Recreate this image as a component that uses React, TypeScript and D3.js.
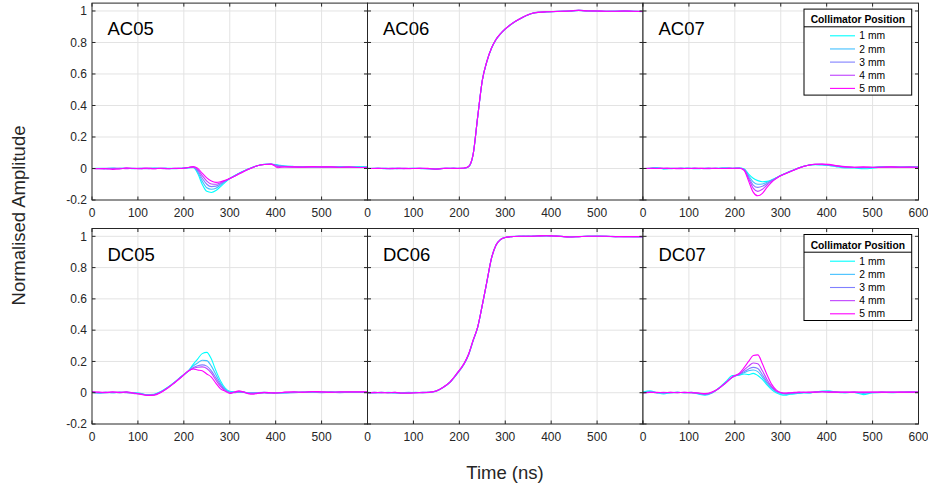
import React from "react";
import * as d3 from "d3";

// ---------- DATA ----------
const TIME = [0, 15, 30, 45, 60, 75, 90, 105, 120, 135, 150, 165, 180, 195, 210, 220, 230, 240, 250, 260, 270, 280, 290, 300, 310, 320, 330, 340, 350, 360, 375, 390, 405, 420, 440, 460, 480, 500, 520, 540, 560, 580, 600];
const SERIES_NAMES = ["1 mm", "2 mm", "3 mm", "4 mm", "5 mm"];
const SERIES_COLORS = ["#00ffff", "#40bfff", "#8080ff", "#bf40ff", "#ff00ff"];
const Y_TICKS = [-0.2, 0, 0.2, 0.4, 0.6, 0.8, 1];
const X_TICKS = [0, 100, 200, 300, 400, 500, 600];
const PANEL_LABELS = ["AC05", "AC06", "AC07", "DC05", "DC06", "DC07"];

const AC05_1 = [0, 0.002, -0.002, 0.003, 0, 0.002, -0.002, 0.002, 0, 0.003, 0, 0.002, 0, 0.002, 0.004, 0.006, -0.03, -0.1, -0.145, -0.152, -0.14, -0.115, -0.088, -0.064, -0.046, -0.03, -0.016, -0.004, 0.008, 0.018, 0.027, 0.028, 0.022, 0.016, 0.013, 0.012, 0.01, 0.012, 0.01, 0.012, 0.008, 0.012, 0.01];
const AC05_2 = [0, 0, 0.002, -0.002, 0.002, 0, 0.002, -0.002, 0.002, 0, 0.002, 0, -0.002, 0.002, 0.005, 0.008, -0.022, -0.08, -0.122, -0.132, -0.125, -0.105, -0.083, -0.063, -0.047, -0.031, -0.017, -0.004, 0.008, 0.018, 0.026, 0.027, 0.02, 0.015, 0.012, 0.01, 0.012, 0.01, 0.008, 0.01, 0.01, 0.008, 0.008];
const AC05_3 = [0, -0.002, 0, 0.002, -0.002, 0.002, 0, 0, -0.002, 0.002, 0, -0.002, 0.002, 0, 0.006, 0.009, -0.014, -0.062, -0.1, -0.115, -0.112, -0.097, -0.079, -0.063, -0.048, -0.032, -0.018, -0.005, 0.007, 0.017, 0.025, 0.027, 0.018, 0.012, 0.01, 0.01, 0.008, 0.01, 0.01, 0.008, 0.006, 0.008, 0.006];
const AC05_4 = [0, 0, -0.003, 0, 0.002, -0.002, 0.002, 0.002, 0, -0.002, 0.002, 0, 0, 0.002, 0.006, 0.01, -0.006, -0.045, -0.08, -0.098, -0.1, -0.09, -0.077, -0.063, -0.049, -0.034, -0.019, -0.005, 0.007, 0.017, 0.025, 0.028, 0.012, 0.012, 0.008, 0.01, 0.01, 0.008, 0.01, 0.006, 0.008, 0.006, 0.006];
const AC05_5 = [0, -0.002, 0, -0.006, -0.003, 0.004, 0, -0.002, 0.003, -0.002, 0.002, -0.002, 0.002, 0, 0.006, 0.012, 0.002, -0.03, -0.06, -0.08, -0.088, -0.084, -0.075, -0.063, -0.05, -0.035, -0.02, -0.006, 0.007, 0.017, 0.025, 0.028, 0.005, 0.01, 0.01, 0.008, 0.012, 0.01, 0.01, 0.008, 0.01, 0.006, 0.008];

const AC06_1 = [0, 0.002, 0, -0.002, 0.002, 0, 0, 0.002, -0.002, 0, -0.004, 0, 0.002, 0, 0.002, 0.012, 0.09, 0.33, 0.56, 0.68, 0.765, 0.82, 0.857, 0.886, 0.91, 0.93, 0.948, 0.963, 0.976, 0.986, 0.992, 0.995, 0.997, 0.998, 1.0, 1.004, 1.0, 1.0, 0.998, 0.998, 1.0, 0.998, 0.997];
const AC06_2 = [0, 0, 0.002, 0, -0.002, 0.002, 0, 0, 0.002, -0.003, -0.002, 0.002, 0, 0.002, 0, 0.01, 0.088, 0.328, 0.558, 0.678, 0.762, 0.818, 0.855, 0.885, 0.908, 0.93, 0.947, 0.962, 0.975, 0.985, 0.991, 0.994, 0.996, 0.998, 0.999, 1.003, 1.001, 0.999, 0.997, 0.999, 0.999, 0.998, 0.996];
const AC06_3 = [0.002, 0, 0, 0.002, 0, -0.002, 0.002, 0, 0, -0.002, -0.005, 0, 0.002, 0, 0.002, 0.011, 0.087, 0.326, 0.557, 0.679, 0.763, 0.819, 0.856, 0.884, 0.909, 0.929, 0.946, 0.962, 0.976, 0.986, 0.992, 0.996, 0.997, 0.997, 1.0, 1.005, 1.0, 0.999, 0.998, 0.997, 1.0, 0.997, 0.997];
const AC06_4 = [0, 0.002, 0, 0, 0.002, 0, -0.002, 0.002, 0, -0.002, -0.004, 0.002, 0, 0.002, 0.002, 0.012, 0.089, 0.329, 0.559, 0.68, 0.764, 0.82, 0.857, 0.886, 0.91, 0.93, 0.948, 0.963, 0.977, 0.987, 0.993, 0.995, 0.996, 0.998, 1.0, 1.004, 1.001, 1.0, 0.998, 0.998, 0.999, 0.998, 0.997];
const AC06_5 = [0, 0, 0.002, -0.002, 0, 0.002, 0, 0, 0.002, 0, -0.003, 0, 0.002, 0, 0.003, 0.013, 0.09, 0.33, 0.56, 0.681, 0.765, 0.821, 0.857, 0.886, 0.91, 0.931, 0.948, 0.963, 0.976, 0.986, 0.992, 0.995, 0.997, 0.998, 1.0, 1.005, 1.0, 1.0, 0.998, 0.998, 1.0, 0.998, 0.997];

const AC07_1 = [0, 0.002, 0.006, -0.004, 0.002, 0, 0.002, 0, -0.002, 0.002, 0, 0.002, 0.004, 0.002, 0.003, -0.002, -0.035, -0.062, -0.077, -0.084, -0.082, -0.072, -0.058, -0.044, -0.031, -0.018, -0.006, 0.005, 0.014, 0.021, 0.024, 0.022, 0.02, 0.012, 0.004, 0.004, -0.002, 0.002, 0.01, 0.012, 0.008, 0.01, 0.01];
const AC07_2 = [0, 0, 0.002, 0, -0.002, 0.002, 0, 0.002, 0, 0, 0.002, 0, 0.002, 0, 0.003, -0.004, -0.045, -0.085, -0.1, -0.098, -0.088, -0.075, -0.06, -0.045, -0.032, -0.019, -0.007, 0.005, 0.014, 0.021, 0.025, 0.024, 0.02, 0.014, 0.008, 0.006, 0.004, 0.006, 0.01, 0.01, 0.008, 0.01, 0.008];
const AC07_3 = [0, 0.002, 0, 0.002, 0, 0, 0.002, 0, 0.002, -0.002, 0, 0.002, 0, 0.002, 0.002, -0.006, -0.055, -0.105, -0.12, -0.113, -0.095, -0.078, -0.061, -0.045, -0.032, -0.02, -0.008, 0.004, 0.014, 0.021, 0.026, 0.026, 0.022, 0.016, 0.01, 0.006, 0.006, 0.008, 0.01, 0.008, 0.01, 0.008, 0.008];
const AC07_4 = [0, 0, 0.002, 0, 0.002, -0.002, 0, 0.002, 0, 0.002, 0, 0, 0.002, 0, 0.002, -0.008, -0.065, -0.125, -0.145, -0.132, -0.105, -0.082, -0.062, -0.045, -0.032, -0.02, -0.008, 0.004, 0.014, 0.021, 0.027, 0.027, 0.024, 0.018, 0.012, 0.008, 0.008, 0.006, 0.008, 0.01, 0.008, 0.01, 0.008];
const AC07_5 = [0, 0.002, 0, 0.002, 0, 0.002, 0, 0, 0.002, 0, 0.002, 0, 0, 0.002, 0.002, -0.012, -0.08, -0.15, -0.173, -0.158, -0.12, -0.088, -0.064, -0.046, -0.033, -0.021, -0.009, 0.003, 0.013, 0.021, 0.027, 0.028, 0.026, 0.018, 0.01, 0.008, 0.01, 0.008, 0.008, 0.01, 0.008, 0.008, 0.008];

const DC05_1 = [0.005, 0, 0.003, 0, 0.002, 0.004, 0, -0.004, -0.012, -0.01, 0.008, 0.035, 0.068, 0.105, 0.14, 0.18, 0.215, 0.25, 0.258, 0.215, 0.14, 0.075, 0.03, 0.01, 0.006, 0.002, 0.004, 0, -0.002, 0, 0.002, 0, -0.002, 0, 0.002, 0.004, 0.006, 0.004, 0.006, 0.004, 0.004, 0.002, 0.002];
const DC05_2 = [0.002, -0.003, 0, 0.002, 0, 0.003, -0.002, -0.006, -0.014, -0.012, 0.006, 0.034, 0.067, 0.104, 0.14, 0.17, 0.19, 0.208, 0.205, 0.17, 0.115, 0.06, 0.022, 0.005, 0.002, 0.006, 0.002, -0.002, 0, -0.002, 0, -0.002, 0, -0.002, 0.002, 0.002, 0.004, 0.002, 0.004, 0.002, 0.004, 0.004, 0.004];
const DC05_3 = [0.004, 0, 0.002, 0, 0.004, 0, -0.002, -0.006, -0.014, -0.013, 0.004, 0.032, 0.066, 0.103, 0.138, 0.16, 0.172, 0.178, 0.17, 0.14, 0.095, 0.05, 0.018, 0.003, 0, 0.004, 0.004, -0.004, -0.002, -0.004, 0, -0.002, -0.002, 0, 0, 0.002, 0.002, 0, 0.002, 0, 0.002, 0.002, 0.002];
const DC05_4 = [0.006, 0.002, 0, 0.002, 0, 0.002, -0.004, -0.008, -0.016, -0.014, 0.003, 0.031, 0.065, 0.102, 0.138, 0.155, 0.163, 0.165, 0.155, 0.125, 0.08, 0.04, 0.012, 0, 0.002, 0.008, 0.006, -0.002, -0.004, -0.002, 0, -0.002, 0, 0.002, 0.004, 0.002, 0.006, 0.004, 0.002, 0.004, 0.004, 0.004, 0.004];
const DC05_5 = [0.006, 0.004, 0.002, 0.006, 0.002, 0.006, -0.002, -0.01, -0.018, -0.016, 0.002, 0.03, 0.064, 0.1, 0.14, 0.152, 0.145, 0.14, 0.12, 0.1, 0.06, 0.025, 0.01, -0.005, 0.004, 0.012, 0.004, -0.006, -0.01, -0.004, 0.002, 0, -0.002, 0.004, 0.006, 0.004, 0.008, 0.006, 0.004, 0.006, 0.006, 0.006, 0.006];

const DC06_1 = [0, 0.002, 0, 0.002, 0, -0.002, 0, 0.002, 0, 0.003, 0.012, 0.036, 0.07, 0.124, 0.185, 0.245, 0.335, 0.42, 0.56, 0.71, 0.86, 0.945, 0.98, 0.992, 0.997, 0.999, 1.0, 1.0, 1.0, 1.0, 1.003, 1.004, 1.002, 1.0, 0.996, 0.998, 1.0, 1.0, 1.0, 0.998, 0.998, 0.998, 0.998];
const DC06_2 = [0.002, 0, 0.003, 0, -0.002, 0, 0.002, 0, 0.002, 0.002, 0.011, 0.034, 0.068, 0.12, 0.18, 0.24, 0.33, 0.418, 0.558, 0.708, 0.858, 0.944, 0.98, 0.993, 0.998, 1.0, 1.0, 1.001, 1.0, 1.001, 1.004, 1.003, 1.001, 0.999, 0.997, 0.999, 1.0, 1.001, 0.999, 0.998, 0.999, 0.998, 0.998];
const DC06_3 = [0, -0.002, 0, 0, 0.002, -0.002, -0.002, 0, 0, 0.002, 0.01, 0.033, 0.067, 0.121, 0.182, 0.243, 0.333, 0.419, 0.559, 0.709, 0.859, 0.944, 0.979, 0.992, 0.997, 0.999, 1.0, 1.0, 1.001, 1.0, 1.003, 1.004, 1.002, 1.0, 0.997, 0.998, 1.0, 1.0, 1.0, 0.999, 0.998, 0.998, 0.998];
const DC06_4 = [0, 0, 0.002, 0, 0, -0.003, 0, 0, 0.002, 0.002, 0.011, 0.035, 0.069, 0.123, 0.184, 0.244, 0.334, 0.42, 0.56, 0.71, 0.86, 0.945, 0.98, 0.992, 0.997, 0.999, 1.0, 1.0, 1.0, 1.001, 1.003, 1.004, 1.002, 1.0, 0.996, 0.998, 1.0, 1.0, 1.0, 0.998, 0.998, 0.998, 0.998];
const DC06_5 = [0, 0.002, 0, 0, 0.002, -0.002, -0.003, 0, 0, 0.003, 0.012, 0.036, 0.07, 0.125, 0.186, 0.246, 0.336, 0.421, 0.561, 0.711, 0.86, 0.945, 0.98, 0.992, 0.997, 0.999, 1.0, 1.0, 1.0, 1.0, 1.003, 1.004, 1.002, 1.0, 0.996, 0.998, 1.0, 1.0, 1.0, 0.998, 0.998, 0.998, 0.998];

const DC07_1 = [0.004, 0.012, 0, -0.008, 0, 0.002, 0, 0.002, -0.008, -0.016, -0.002, 0.03, 0.07, 0.11, 0.112, 0.12, 0.116, 0.124, 0.11, 0.085, 0.05, 0.02, 0, -0.012, -0.016, -0.01, -0.008, -0.004, 0, -0.002, 0.004, 0.01, 0.012, 0.004, 0, 0.002, -0.012, 0, 0.002, 0, 0.002, 0.004, 0.002];
const DC07_2 = [0.002, 0.006, 0, -0.003, 0, 0.002, 0, 0, -0.005, -0.012, -0.002, 0.028, 0.064, 0.1, 0.115, 0.128, 0.14, 0.145, 0.135, 0.1, 0.06, 0.03, 0.008, -0.005, -0.01, -0.006, -0.004, -0.002, 0, 0, 0.004, 0.008, 0.008, 0.004, 0, 0.002, -0.004, 0, 0.002, 0.002, 0.002, 0.004, 0.002];
const DC07_3 = [0, 0.004, 0, 0, 0.002, 0, 0.002, 0, -0.004, -0.01, 0, 0.027, 0.062, 0.098, 0.118, 0.135, 0.152, 0.162, 0.155, 0.115, 0.07, 0.035, 0.01, 0, -0.006, -0.004, -0.002, 0, 0.002, 0, 0.004, 0.006, 0.006, 0.004, 0.002, 0.002, 0, 0.002, 0.002, 0.002, 0.002, 0.004, 0.002];
const DC07_4 = [0, 0.002, 0, 0.002, 0, 0.002, 0, 0.002, -0.002, -0.008, 0.002, 0.027, 0.062, 0.1, 0.12, 0.145, 0.17, 0.19, 0.185, 0.14, 0.085, 0.04, 0.012, 0, -0.004, -0.002, 0, 0.002, 0.002, 0.002, 0.004, 0.006, 0.004, 0.004, 0.002, 0.004, 0.002, 0.002, 0.004, 0.002, 0.004, 0.004, 0.004];
const DC07_5 = [0, 0.002, 0.002, 0, 0.002, 0, 0.002, 0, -0.002, -0.006, 0.004, 0.028, 0.063, 0.102, 0.125, 0.16, 0.2, 0.238, 0.242, 0.185, 0.115, 0.055, 0.018, 0.002, -0.002, 0, 0.002, 0.004, 0.002, 0.004, 0.004, 0.006, 0.004, 0.004, 0.004, 0.004, 0.004, 0.004, 0.004, 0.004, 0.004, 0.004, 0.004];

const PANEL_SERIES = [
  [AC05_1, AC05_2, AC05_3, AC05_4, AC05_5],
  [AC06_1, AC06_2, AC06_3, AC06_4, AC06_5],
  [AC07_1, AC07_2, AC07_3, AC07_4, AC07_5],
  [DC05_1, DC05_2, DC05_3, DC05_4, DC05_5],
  [DC06_1, DC06_2, DC06_3, DC06_4, DC06_5],
  [DC07_1, DC07_2, DC07_3, DC07_4, DC07_5],
];

// ---------- LAYOUT ----------
const W = 928;
const H = 491;
const COL_X = [92, 367.5, 643];
const COL_W = 275.5;
const ROW_Y = [3.1, 228.5];
const ROW_BOTTOM = [200, 424];
const FONT = "'Liberation Sans', Arial, Helvetica, sans-serif";
const AXIS = "#262626";
const GRID = "#e3e3e3";
const TICK = 3.5;

function Panel({ idx }: { idx: number }) {
  const col = idx % 3;
  const row = Math.floor(idx / 3);
  const x0 = COL_X[col];
  const x1 = x0 + COL_W;
  const yTop = ROW_Y[row];
  const yBot = ROW_BOTTOM[row];
  const x = d3.scaleLinear().domain([0, 600]).range([x0, x1]);
  const y = d3.scaleLinear().domain([-0.2, 1.05]).range([yBot, yTop]);
  const line = d3
    .line<number>()
    .x((_, i) => x(TIME[i]))
    .y((d) => y(d))
    .curve(d3.curveMonotoneX);
  const series = PANEL_SERIES[idx];
  const xLabels = col === 2 ? X_TICKS : X_TICKS.slice(0, 6);
  const clipId = `clip${idx}`;
  return (
    <g>
      <defs>
        <clipPath id={clipId}>
          <rect x={x0} y={yTop} width={COL_W} height={yBot - yTop} />
        </clipPath>
      </defs>
      <rect x={x0} y={yTop} width={COL_W} height={yBot - yTop} fill="#fff" />
      {/* grid */}
      {X_TICKS.slice(1, 6).map((t) => (
        <line key={"gx" + t} x1={x(t)} x2={x(t)} y1={yTop} y2={yBot} stroke={GRID} strokeWidth={1} />
      ))}
      {Y_TICKS.slice(1).map((t) => (
        <line key={"gy" + t} x1={x0} x2={x1} y1={y(t)} y2={y(t)} stroke={GRID} strokeWidth={1} />
      ))}
      {/* data */}
      <g clipPath={`url(#${clipId})`}>
        {series.map((s, i) => (
          <path key={i} d={line(s) || ""} fill="none" stroke={SERIES_COLORS[i]} strokeWidth={1.1} />
        ))}
      </g>
      {/* box */}
      <rect x={x0} y={yTop} width={COL_W} height={yBot - yTop} fill="none" stroke={AXIS} strokeWidth={1} />
      {/* ticks */}
      {X_TICKS.map((t) => (
        <g key={"tx" + t}>
          <line x1={x(t)} x2={x(t)} y1={yBot} y2={yBot - TICK} stroke={AXIS} />
          <line x1={x(t)} x2={x(t)} y1={yTop} y2={yTop + TICK} stroke={AXIS} />
        </g>
      ))}
      {Y_TICKS.map((t) => (
        <g key={"ty" + t}>
          <line x1={x0} x2={x0 + TICK} y1={y(t)} y2={y(t)} stroke={AXIS} />
          <line x1={x1} x2={x1 - TICK} y1={y(t)} y2={y(t)} stroke={AXIS} />
        </g>
      ))}
      {/* x tick labels */}
      {xLabels.map((t) => (
        <text key={"lx" + t} x={x(t)} y={yBot + 16.5} textAnchor="middle" fontSize={12} fill={AXIS} fontFamily={FONT}>
          {t}
        </text>
      ))}
      {/* y tick labels */}
      {col === 0 &&
        Y_TICKS.map((t) => (
          <text key={"ly" + t} x={x0 - 5} y={y(t) + 4.3} textAnchor="end" fontSize={12} fill={AXIS} fontFamily={FONT}>
            {String(t)}
          </text>
        ))}
      {/* panel label */}
      <text x={x0 + 15.5} y={yTop + 32} fontSize={18.5} fill="#000" fontFamily={FONT}>
        {PANEL_LABELS[idx]}
      </text>
      {col === 2 && <Legend x0={804} y0={yTop + 6} />}
    </g>
  );
}

function Legend({ x0, y0 }: { x0: number; y0: number }) {
  const w = 107.7;
  const h = 86;
  const rowY = d3.scaleLinear().domain([0, 4]).range([y0 + 26.7, y0 + 79.3]);
  return (
    <g>
      <rect x={x0} y={y0} width={w} height={h} fill="#fff" stroke="#000" strokeWidth={1} />
      <line x1={x0} x2={x0 + w} y1={y0 + 17.7} y2={y0 + 17.7} stroke="#000" strokeWidth={1} />
      <text x={x0 + w / 2} y={y0 + 14} textAnchor="middle" fontSize={10.3} fontWeight="bold" fill="#000" fontFamily={FONT}>
        Collimator Position
      </text>
      {SERIES_NAMES.map((n, i) => (
        <g key={n}>
          <line x1={x0 + 26} x2={x0 + 51} y1={rowY(i)} y2={rowY(i)} stroke={SERIES_COLORS[i]} strokeWidth={1.1} />
          <text x={x0 + 55.3} y={rowY(i) + 3.6} fontSize={10.3} fill="#000" fontFamily={FONT}>
            {n}
          </text>
        </g>
      ))}
    </g>
  );
}

export default function App() {
  return (
    <svg
      width={W}
      height={H}
      viewBox={`0 0 ${W} ${H}`}
      style={{ position: "absolute", left: 0, top: 0, background: "#fff" }}
    >
      <rect x={0} y={0} width={W} height={H} fill="#fff" />
      {PANEL_LABELS.map((_, i) => (
        <Panel key={i} idx={i} />
      ))}
      <text
        transform={`translate(25, 215.5) rotate(-90)`}
        textAnchor="middle"
        fontSize={18.5}
        fill={AXIS}
        fontFamily={FONT}
      >
        Normalised Amplitude
      </text>
      <text x={505} y={479} textAnchor="middle" fontSize={18.5} fill={AXIS} fontFamily={FONT}>
        Time (ns)
      </text>
    </svg>
  );
}
